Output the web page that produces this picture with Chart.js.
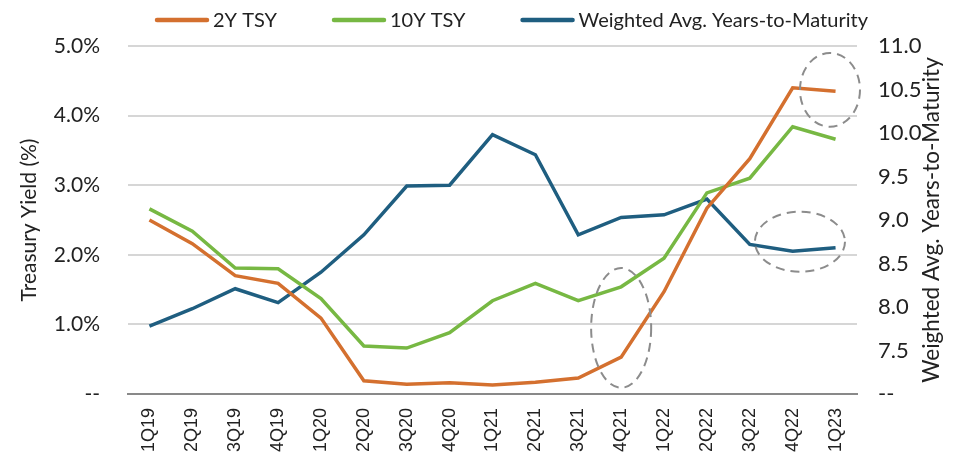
<!DOCTYPE html>
<html>
<head>
<meta charset="utf-8">
<script src="https://cdn.jsdelivr.net/npm/chart.js@4"></script>
<style>
    html, body { margin: 0; padding: 0; background: #fff; }
    .chart-box { width: 963px; height: 458px; position: relative; }
</style>
</head>
<body>
<div class="chart-box"><canvas id="linechart"></canvas></div>
<script>
// DATA
const quarters = ['1Q19', '2Q19', '3Q19', '4Q19', '1Q20', '2Q20', '3Q20', '4Q20', '1Q21', '2Q21', '3Q21', '4Q21', '1Q22', '2Q22', '3Q22', '4Q22', '1Q23']
const twoYear = [2.50, 2.16, 1.70, 1.59, 1.09, 0.19, 0.14, 0.16, 0.13, 0.17, 0.23, 0.53, 1.47, 2.67, 3.38, 4.40, 4.35]
const tenYear = [2.66, 2.34, 1.81, 1.80, 1.37, 0.69, 0.66, 0.88, 1.34, 1.59, 1.34, 1.54, 1.95, 2.89, 3.10, 3.84, 3.66]
const wamYears = [7.78, 7.98, 8.21, 8.05, 8.40, 8.83, 9.39, 9.40, 9.98, 9.75, 8.83, 9.03, 9.06, 9.24, 8.72, 8.64, 8.68]
const yieldTicks = [0, 1, 2, 3, 4, 5]
const yearTicks = [7.0, 7.5, 8.0, 8.5, 9.0, 9.5, 10.0, 10.5, 11.0]
const rightTitle = 'Weighted Avg. Years-to-Maturity'

// highlight ellipses in data units: [category index, value, half width (categories), half height (value), axis]
const highlights = [
    [11, 0.95, 0.7, 0.86, 'y'],
    [15.87, 4.37, 0.7, 0.53, 'y'],
    [15.17, 8.75, 1.05, 0.345, 'y1'],
]

const font = "Lato, 'Open Sans', sans-serif"
const textColor = '#222'

// dashed ellipses
const ellipsePlugin = {
    id: 'ellipses',
    afterDatasetsDraw(chart) {
        const ctx = chart.ctx
        const x = chart.scales.x
        ctx.save()
        ctx.strokeStyle = '#8c8c8c'
        ctx.lineWidth = 2
        ctx.setLineDash([9, 6])
        highlights.forEach(([ci, v, hw, hh, axis]) => {
            const y = chart.scales[axis]
            const cx = x.getPixelForValue(ci)
            const cy = y.getPixelForValue(v)
            const rx = Math.abs(x.getPixelForValue(ci + hw) - cx)
            const ry = Math.abs(y.getPixelForValue(v + hh) - cy)
            ctx.beginPath()
            ctx.ellipse(cx, cy, rx, ry, 0, 0, Math.PI * 2)
            ctx.stroke()
        })
        ctx.restore()
    }
}

// legend with wide gaps + right axis title reading bottom-to-top
const legendPlugin = {
    id: 'topLegend',
    afterDraw(chart) {
        const ctx = chart.ctx
        ctx.save()
        ctx.font = `20px ${font}`
        ctx.textBaseline = 'middle'
        ctx.fillStyle = textColor
        let x = 155
        const y = 20
        chart.data.datasets.forEach((ds) => {
            ctx.strokeStyle = ds.borderColor
            ctx.lineWidth = 4.5
            ctx.lineCap = 'round'
            ctx.beginPath()
            ctx.moveTo(x + 2, y)
            ctx.lineTo(x + 52, y)
            ctx.stroke()
            x += 58
            ctx.fillText(ds.label, x, y + 1)
            x += ctx.measureText(ds.label).width + 55
        })

        const y1 = chart.scales.y1
        ctx.translate(932, (y1.top + y1.bottom) / 2)
        ctx.rotate(-Math.PI / 2)
        ctx.textAlign = 'center'
        ctx.font = `22.5px ${font}`
        ctx.fillText(rightTitle, 0, 0)
        ctx.restore()
    }
}

const lineStyle = (color) => ({
    borderColor: color,
    backgroundColor: color,
    borderWidth: 3.5,
    pointRadius: 0,
    tension: 0,
})

new Chart(document.getElementById('linechart'), {
    type: 'line',
    data: {
        labels: quarters,
        datasets: [
            { label: '2Y TSY', data: twoYear, yAxisID: 'y', ...lineStyle('#d4702f') },
            { label: '10Y TSY', data: tenYear, yAxisID: 'y', ...lineStyle('#77b843') },
            { label: 'Weighted Avg. Years-to-Maturity', data: wamYears, yAxisID: 'y1', ...lineStyle('#1f5e80') },
        ]
    },
    options: {
        responsive: true,
        maintainAspectRatio: false,
        animation: false,
        layout: { padding: { left: 0, right: 0, top: 46, bottom: 0 } },
        plugins: {
            legend: { display: false },
            tooltip: { enabled: false },
        },
        scales: {
            x: {
                offset: true,
                grid: { display: false, drawTicks: false },
                border: { color: '#898989', width: 2 },
                ticks: {
                    minRotation: 90,
                    maxRotation: 90,
                    padding: 14,
                    color: textColor,
                    font: { family: "'Liberation Sans', Arial, sans-serif", size: 18 },
                },
                afterFit: (scale) => { scale.height = 64 },
            },
            y: {
                position: 'left',
                min: 0,
                max: 5,
                afterBuildTicks: (scale) => { scale.ticks = yieldTicks.map(v => ({ value: v })) },
                grid: { color: '#d6d6d6', lineWidth: 2, drawTicks: false },
                border: { display: false },
                ticks: {
                    padding: 28,
                    color: textColor,
                    font: { family: font, size: 21 },
                    callback: (v) => v === 0 ? '--' : v.toFixed(1) + '%',
                },
                title: {
                    display: true,
                    text: 'Treasury Yield (%)',
                    color: textColor,
                    font: { family: font, size: 21 },
                    padding: { top: 17, bottom: 0 },
                },
                afterFit: (scale) => { scale.width = 128 },
            },
            y1: {
                position: 'right',
                min: 7,
                max: 11,
                afterBuildTicks: (scale) => { scale.ticks = yearTicks.map(v => ({ value: v })) },
                grid: { display: false, drawTicks: false },
                border: { display: false },
                ticks: {
                    padding: 21,
                    color: textColor,
                    font: { family: font, size: 22 },
                    callback: (v) => v === 7 ? '--' : v.toFixed(1),
                },
                afterFit: (scale) => { scale.width = 106 },
            }
        }
    },
    plugins: [ellipsePlugin, legendPlugin],
})
</script>
</body>
</html>
